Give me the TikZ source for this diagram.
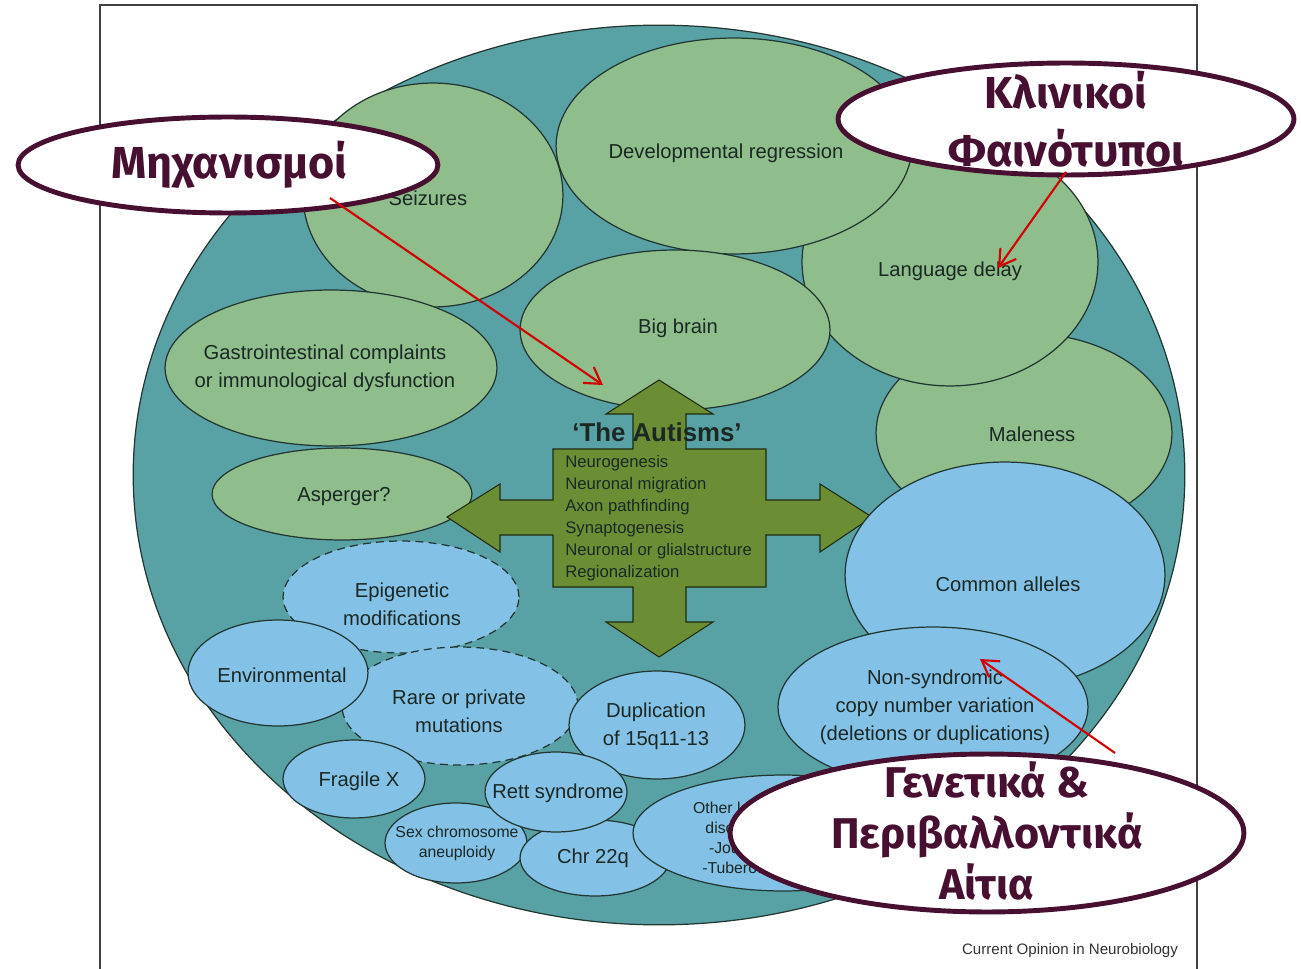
\documentclass[tikz,border=0pt]{standalone}
\usepackage{fontspec}
\setmainfont{Liberation Sans}
\newfontfamily\grk{Fira Sans}
\usetikzlibrary{shapes.geometric,arrows.meta}
\definecolor{tealbg}{RGB}{88,161,165}
\definecolor{grn}{RGB}{143,189,139}
\definecolor{blu}{RGB}{131,193,230}
\definecolor{crossg}{RGB}{107,142,53}
\definecolor{edgec}{RGB}{35,55,50}
\definecolor{txtc}{RGB}{27,40,36}
\definecolor{maroonc}{RGB}{72,16,48}
\definecolor{redarr}{RGB}{210,0,0}
\newcommand{\labfont}{\fontsize{11.5}{16}\selectfont}
\newcommand{\smallfont}{\fontsize{9}{11.4}\selectfont}
\newcommand{\crossfont}{\fontsize{9.5}{12.5}\selectfont}
\tikzset{
  ell/.style 2 args={ellipse, draw=edgec, line width=0.7pt, inner sep=0pt,
    minimum width=#1*0.04cm, minimum height=#2*0.04cm},
  lab/.style={align=center, text=txtc, font=\labfont, inner sep=0pt},
  greenfill/.style={fill=grn},
  bluefill/.style={fill=blu},
  dsh/.style={dash pattern=on 4.5pt off 3pt},
  callout/.style 2 args={ellipse, draw=maroonc, line width=2.8pt, fill=white,
    inner sep=0pt, minimum width=#1*0.04cm, minimum height=#2*0.04cm},
  callouttext/.style={align=center, text=maroonc, inner sep=0pt},
  redarrow/.style={draw=redarr, line width=1.2pt, -{Straight Barb[length=9pt,width=11pt]}}
}
\begin{document}
\begin{tikzpicture}[x=0.02cm,y=-0.02cm]
\useasboundingbox (0,0) rectangle (1301,969);
\fill[white] (0,0) rectangle (1301,969);
\draw[black!75, line width=0.7pt] (100,969) -- (100,5) -- (1197,5) -- (1197,969);

% outer ellipse
\node[ell={526}{450}, fill=tealbg] (outer) at (659,475) {};

% green phenotype ellipses
\node[ell={130}{112}, greenfill] (seiz) at (433,195) {};
\node[lab] (seizt) at (428,198) {Seizures};
\node[ell={148}{100}, greenfill] (male) at (1024,433) {};
\node[lab] (malet) at (1032,434) {Maleness};
\node[ell={148}{124}, greenfill] (lang) at (950,262) {};
\node[lab] (langt) at (950,271) {Language delay};
\node[ell={178}{108}, greenfill] (devreg) at (734,146) {};
\node[lab] (devregt) at (726,153) {Developmental regression};
\node[ell={155}{80}, greenfill] (bigbrain) at (675,330) {};
\node[lab] (bigbraint) at (678,328) {Big brain};
\node[ell={166}{78}, greenfill] (gastro) at (331,368) {};
\node[lab] (gastrot) at (325,368) {Gastrointestinal complaints\\or immunological dysfunction};
\node[ell={130}{46}, greenfill] (asp) at (342,494) {};
\node[lab] (aspt) at (344,497) {Asperger?};

% central cross
\filldraw[fill=crossg, draw=black!70!crossg, line width=0.6pt]
  (659,380) -- (713,414) -- (686,414) -- (686,449) -- (766,449) -- (766,500)
  -- (820,500) -- (820,484) -- (872,517) -- (820,552) -- (820,535) -- (766,535)
  -- (766,587) -- (686,587) -- (686,622) -- (713,622) -- (659,657) -- (606,622)
  -- (633,622) -- (633,587) -- (553,587) -- (553,535) -- (500,535) -- (500,552)
  -- (447,517) -- (500,484) -- (500,500) -- (553,500) -- (553,449) -- (633,449)
  -- (633,414) -- (606,414) -- cycle;
\node[font=\fontsize{14.7}{17}\selectfont\bfseries, text=txtc] (autisms) at (657,432) {‘The Autisms’};
\node[anchor=north west, align=left, font=\crossfont, text=txtc, inner sep=0pt] (mech) at (565,455)
  {Neurogenesis\\Neuronal migration\\Axon pathfinding\\Synaptogenesis\\Neuronal or glialstructure\\Regionalization};

% blue cause ellipses
\node[ell={118}{56}, bluefill, dsh] (epi) at (401,597) {};
\node[lab] (epit) at (402,604) {Epigenetic\\modifications};
\node[ell={118}{59}, bluefill, dsh] (rare) at (460,706) {};
\node[lab] (raret) at (459,711) {Rare or private\\mutations};
\node[ell={90}{53}, bluefill] (env) at (278,673) {};
\node[lab] (envt) at (282,675) {Environmental};
\node[ell={71}{39}, bluefill] (fragx) at (354,779) {};
\node[lab] (fragxt) at (359,781) {Fragile X};
\node[ell={88}{54}, bluefill] (dup) at (657,725) {};
\node[lab] (dupt) at (656,726) {Duplication\\of 15q11-13};
\node[ell={71}{40}, bluefill] (sexchr) at (456,843) {};
\node[lab, font=\smallfont] (sexchrt) at (457,843) {Sex chromosome\\aneuploidy};
\node[ell={75}{38}, bluefill] (chr22) at (595,858) {};
\node[lab] (chr22t) at (593,858) {Chr 22q};
\node[ell={71}{40}, bluefill] (rett) at (556,792) {};
\node[lab] (rettt) at (558,793) {Rett syndrome};
\node[ell={150}{58}, bluefill] (other) at (783,833) {};
\node[lab, font=\smallfont] (othertxt) at (738,838) {Other known\\disorders\\-Joubert\\-Tuberous};
\node[ell={160}{113}, bluefill] (common) at (1005,575) {};
\node[lab] (commont) at (1008,584) {Common alleles};
\node[ell={155}{80}, bluefill] (cnv) at (933,707) {};
\node[lab] (cnvt) at (935,707) {Non-syndromic\\copy number variation\\(deletions or duplications)};

% callouts
\node[callout={210}{48}] (mhx) at (228,165) {};
\node[callouttext, font=\grk\bfseries\fontsize{25.5}{30}\selectfont] (mhxt) at (229,165) {Μηχανισμοί};
\node[callout={228}{56}] (klin) at (1066,119) {};
\node[callouttext, font=\grk\bfseries\fontsize{25.5}{33}\selectfont] (klint) at (1066,119) {Κλινικοί\\Φαινότυποι};
\node[callout={257}{79}] (gen) at (987,833) {};
\node[callouttext, font=\grk\bfseries\fontsize{24.5}{29}\selectfont] (gent) at (987,831) {Γενετικά \&\\Περιβαλλοντικά\\Αίτια};

% red arrows
\coordinate (a1s) at (330,198);
\coordinate (a1e) at (603,385);
\coordinate (a2s) at (1066,172);
\coordinate (a2e) at (998,268);
\coordinate (a3s) at (1115,753);
\coordinate (a3e) at (980,659);
\draw[redarrow] (a1s) -- (a1e);
\draw[redarrow] (a2s) -- (a2e);
\draw[redarrow] (a3s) -- (a3e);

% footer
\node[font=\fontsize{8.6}{10}\selectfont, text=black!80] (footer) at (1070,951) {Current Opinion in Neurobiology};
\end{tikzpicture}
\end{document}
